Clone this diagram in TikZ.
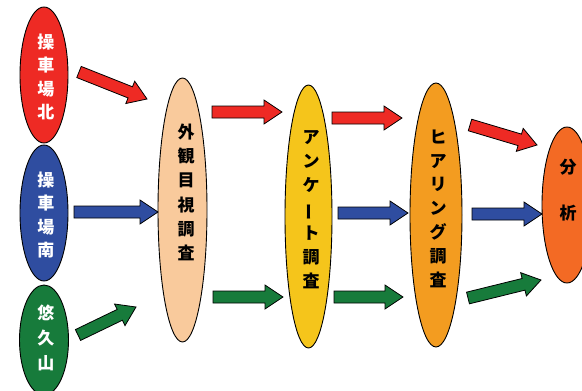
\documentclass[tikz,border=0pt]{standalone}
\usepackage{fontspec}
\setmainfont{Noto Sans CJK JP}
\usetikzlibrary{calc,shapes.geometric}
\definecolor{cred}{HTML}{EE2A24}
\definecolor{cblue}{HTML}{2F4DA0}
\definecolor{cgreen}{HTML}{177B3B}
\definecolor{cpeach}{HTML}{F9CA9C}
\definecolor{cyellow}{HTML}{F5C51B}
\definecolor{corange}{HTML}{F39C20}
\definecolor{cvermil}{HTML}{F36A24}
\tikzset{
  ell/.style={ellipse,draw=black,line width=0.9pt,inner sep=0pt},
  lbl/.style={align=center,inner sep=0pt,font=\bfseries\fontsize{17}{23.6}\selectfont},
  barrow/.style={draw=black,line width=0.8pt,line join=miter},
}
\newcommand\blockarr[3]{%
  \coordinate (bh) at ($(#2)!18pt!(#1)$);
  \draw[barrow,fill=#3] ($(#1)!6pt!90:(#2)$) -- ($(bh)!6pt!90:(#2)$) -- ($(bh)!12pt!90:(#2)$) -- (#2) -- ($(bh)!12pt!-90:(#2)$) -- ($(bh)!6pt!-90:(#2)$) -- ($(#1)!6pt!-90:(#2)$) -- cycle;}
\begin{document}
\begin{tikzpicture}[x=1pt,y=-1pt]
\useasboundingbox (0,0) rectangle (582,391);
\clip (0,0) rectangle (582,391);
% ellipses
\node[ell,fill=cred,minimum width=48pt,minimum height=136pt] (e1) at (44,75) {};
\node[ell,fill=cblue,minimum width=48pt,minimum height=136pt] (e2) at (44,213) {};
\node[ell,fill=cgreen,minimum width=49pt,minimum height=110pt] (e3) at (44,340) {};
\node[ell,fill=cpeach,minimum width=49pt,minimum height=264pt] (e4) at (182.5,210) {};
\node[ell,fill=cyellow,minimum width=47pt,minimum height=263pt] (e5) at (308.5,216.5) {};
\node[ell,fill=corange,minimum width=52pt,minimum height=264pt] (e6) at (436,215) {};
\node[ell,fill=cvermil,minimum width=50pt,minimum height=156pt] (e7) at (567,205) {};
% labels
\node[lbl,text=white] (t1) at (46,77) {操\\車\\場\\北};
\node[lbl,text=white] (t2) at (46,215) {操\\車\\場\\南};
\node[lbl,text=white,font=\bfseries\fontsize{17}{25}\selectfont] (t3) at (46,338) {悠\\久\\山};
\node[lbl,font=\bfseries\fontsize{17}{24.2}\selectfont] (t4) at (186,192.5) {外\\観\\目\\視\\調\\査};
\node[lbl,font=\bfseries\fontsize{17}{24}\selectfont] (t5) at (311,210) {ア\\ン\\ケ\\\rotatebox[origin=c]{90}{ー}\\ト\\調\\査};
\node[lbl,font=\bfseries\fontsize{17}{23.8}\selectfont] (t6) at (438,208.5) {ヒ\\ア\\リ\\ン\\グ\\調\\査};
\node[lbl,font=\bfseries\fontsize{17}{46}\selectfont] (t7) at (568,190) {分\\析};
% arrow end points
\coordinate (r1a) at (79,72);   \coordinate (r1b) at (147,99);
\coordinate (b1a) at (74,212);  \coordinate (b1b) at (158,212);
\coordinate (g1a) at (78,335);  \coordinate (g1b) at (136,307);
\coordinate (r2a) at (212,112); \coordinate (r2b) at (282,112);
\coordinate (g2a) at (213,297); \coordinate (g2b) at (283,297);
\coordinate (r3a) at (332,118); \coordinate (r3b) at (402,118);
\coordinate (b3a) at (338,213); \coordinate (b3b) at (408,213);
\coordinate (g3a) at (334,297); \coordinate (g3b) at (403,297);
\coordinate (r4a) at (470,125); \coordinate (r4b) at (537,145);
\coordinate (b4a) at (472,214); \coordinate (b4b) at (542,214);
\coordinate (g4a) at (468,298); \coordinate (g4b) at (541,280);
\blockarr{r1a}{r1b}{cred}
\blockarr{b1a}{b1b}{cblue}
\blockarr{g1a}{g1b}{cgreen}
\blockarr{r2a}{r2b}{cred}
\blockarr{g2a}{g2b}{cgreen}
\blockarr{r3a}{r3b}{cred}
\blockarr{b3a}{b3b}{cblue}
\blockarr{g3a}{g3b}{cgreen}
\blockarr{r4a}{r4b}{cred}
\blockarr{b4a}{b4b}{cblue}
\blockarr{g4a}{g4b}{cgreen}
\end{tikzpicture}
\end{document}
